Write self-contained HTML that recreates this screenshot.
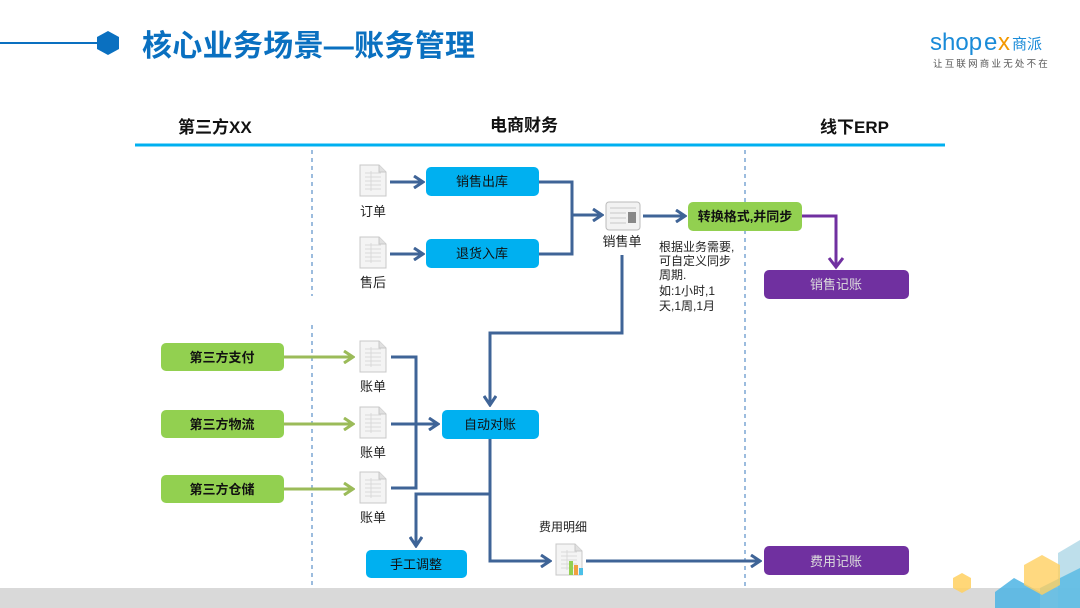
<!DOCTYPE html>
<html><head><meta charset="utf-8">
<style>
html,body{margin:0;padding:0;background:#fff;}
body{width:1080px;height:608px;overflow:hidden;}
svg{display:block;font-family:"Liberation Sans","Noto Sans CJK SC",sans-serif;}
</style></head><body>
<svg width="1080" height="608" viewBox="0 0 1080 608" xmlns="http://www.w3.org/2000/svg">
<defs>
  <marker id="ab" markerWidth="12" markerHeight="14" refX="9" refY="7" orient="auto" markerUnits="userSpaceOnUse">
    <path d="M1,1 L10,7 L1,13" fill="none" stroke="#3F6497" stroke-width="3"/>
  </marker>
  <marker id="ag" markerWidth="12" markerHeight="14" refX="9" refY="7" orient="auto" markerUnits="userSpaceOnUse">
    <path d="M1,1 L10,7 L1,13" fill="none" stroke="#9BBB59" stroke-width="3"/>
  </marker>
  <g id="doc">
    <path d="M0,0 H19 L26,7 V31 H0 Z" fill="#f4f4f4" stroke="#c8c8c8" stroke-width="1"/>
    <path d="M19,0 V7 H26" fill="#e0e0e0" stroke="#c8c8c8" stroke-width="1"/>
    <g stroke="#dadada" stroke-width="1">
      <line x1="5" y1="8" x2="21" y2="8"/><line x1="5" y1="12" x2="21" y2="12"/>
      <line x1="5" y1="16" x2="21" y2="16"/><line x1="5" y1="20" x2="21" y2="20"/>
      <line x1="5" y1="24" x2="21" y2="24"/><line x1="11" y1="6" x2="11" y2="26"/>
    </g>
  </g>
</defs>

<!-- title -->
<line x1="0" y1="43" x2="100" y2="43" stroke="#0A70C0" stroke-width="2"/>
<polygon points="108,31 119,37 119,49 108,55 97,49 97,37" fill="#0A70C0"/>
<text x="142" y="56" font-size="30" font-weight="bold" fill="#0A70C0" letter-spacing="0.3">核心业务场景—账务管理</text>

<!-- logo -->
<text x="930" y="50" font-size="24" fill="#1A8BD8" font-family="Liberation Sans,sans-serif">shop</text>
<text x="984" y="50" font-size="24" fill="#1A8BD8">e</text>
<text x="998" y="50" font-size="24" fill="#F39800">x</text>
<text x="1012" y="49" font-size="15" fill="#1A8BD8">商派</text>
<text x="933" y="67" font-size="9.5" fill="#555" letter-spacing="2.2">让互联网商业无处不在</text>

<!-- headers -->
<text x="178" y="133" font-size="17" font-weight="bold" fill="#111">第三方XX</text>
<text x="490" y="131" font-size="17" font-weight="bold" fill="#111">电商财务</text>
<text x="820" y="133" font-size="17" font-weight="bold" fill="#111">线下ERP</text>
<line x1="135" y1="145" x2="945" y2="145" stroke="#00B0F0" stroke-width="3"/>

<!-- dashed separators -->
<g stroke="#5B8FC9" stroke-width="1.2" stroke-dasharray="4,4">
<line x1="312" y1="150" x2="312" y2="296"/>
<line x1="312" y1="325" x2="312" y2="590"/>
<line x1="745" y1="150" x2="745" y2="590"/>
</g>

<!-- top section -->
<use href="#doc" x="360" y="165"/>
<text x="373" y="216" font-size="13" fill="#222" text-anchor="middle">订单</text>
<use href="#doc" x="360" y="237"/>
<text x="373" y="287" font-size="13" fill="#222" text-anchor="middle">售后</text>

<g stroke="#3F6497" stroke-width="3" fill="none">
<line x1="390" y1="182" x2="422" y2="182" marker-end="url(#ab)"/>
<line x1="390" y1="254" x2="422" y2="254" marker-end="url(#ab)"/>
<polyline points="539,182 572,182 572,254 539,254"/>
<line x1="572" y1="215" x2="601" y2="215" marker-end="url(#ab)"/>
<line x1="643" y1="216" x2="684" y2="216" marker-end="url(#ab)"/>
<polyline points="622,255 622,333 490,333 490,404" marker-end="url(#ab)"/>
<polyline points="391,357 416,357 416,488 391,488"/>
<line x1="391" y1="424" x2="437" y2="424" marker-end="url(#ab)"/>
<polyline points="490,439 490,561 549,561" marker-end="url(#ab)"/>
<polyline points="490,494 416,494 416,545" marker-end="url(#ab)"/>
<line x1="586" y1="561" x2="759" y2="561" marker-end="url(#ab)"/>
</g>

<rect x="426" y="167" width="113" height="29" rx="5" fill="#00B0F0"/>
<text x="482" y="186" font-size="13" fill="#111" text-anchor="middle">销售出库</text>
<rect x="426" y="239" width="113" height="29" rx="5" fill="#00B0F0"/>
<text x="482" y="258" font-size="13" fill="#111" text-anchor="middle">退货入库</text>

<!-- sales doc -->
<g>
<rect x="606" y="202" width="34" height="28" rx="3" fill="#f2f2f2" stroke="#bbb"/>
<g stroke="#c8c8c8"><line x1="610" y1="208" x2="636" y2="208"/><line x1="610" y1="213" x2="626" y2="213"/><line x1="610" y1="218" x2="626" y2="218"/><line x1="610" y1="223" x2="626" y2="223"/></g>
<rect x="628" y="212" width="8" height="11" fill="#888"/>
</g>
<text x="622" y="246" font-size="13" fill="#222" text-anchor="middle">销售单</text>

<rect x="688" y="202" width="114" height="29" rx="5" fill="#92D050"/>
<text x="745" y="221" font-size="13" font-weight="bold" fill="#111" text-anchor="middle">转换格式,并同步</text>

<g font-size="12" fill="#222">
<text x="659" y="251">根据业务需要,</text>
<text x="659" y="265">可自定义同步</text>
<text x="659" y="279">周期.</text>
<text x="659" y="295">如:1小时,1</text>
<text x="659" y="310">天,1周,1月</text>
</g>

<polyline points="802,216 836,216 836,265" fill="none" stroke="#7030A0" stroke-width="3"/>
<path d="M829,258 L836,267 L843,258" fill="none" stroke="#7030A0" stroke-width="3"/>
<rect x="764" y="270" width="145" height="29" rx="5" fill="#7030A0"/>
<text x="836" y="289" font-size="13" fill="#ddd" text-anchor="middle">销售记账</text>

<!-- third parties -->
<g>
<rect x="161" y="343" width="123" height="28" rx="5" fill="#92D050"/>
<text x="222" y="362" font-size="13" font-weight="bold" fill="#111" text-anchor="middle">第三方支付</text>
<rect x="161" y="410" width="123" height="28" rx="5" fill="#92D050"/>
<text x="222" y="429" font-size="13" font-weight="bold" fill="#111" text-anchor="middle">第三方物流</text>
<rect x="161" y="475" width="123" height="28" rx="5" fill="#92D050"/>
<text x="222" y="494" font-size="13" font-weight="bold" fill="#111" text-anchor="middle">第三方仓储</text>
</g>
<g stroke="#9BBB59" stroke-width="3">
<line x1="284" y1="357" x2="352" y2="357" marker-end="url(#ag)"/>
<line x1="284" y1="424" x2="352" y2="424" marker-end="url(#ag)"/>
<line x1="284" y1="489" x2="352" y2="489" marker-end="url(#ag)"/>
</g>
<use href="#doc" x="360" y="341"/>
<text x="373" y="391" font-size="13" fill="#222" text-anchor="middle">账单</text>
<use href="#doc" x="360" y="407"/>
<text x="373" y="457" font-size="13" fill="#222" text-anchor="middle">账单</text>
<use href="#doc" x="360" y="472"/>
<text x="373" y="522" font-size="13" fill="#222" text-anchor="middle">账单</text>

<rect x="442" y="410" width="97" height="29" rx="5" fill="#00B0F0"/>
<text x="490" y="429" font-size="13" fill="#111" text-anchor="middle">自动对账</text>

<rect x="366" y="550" width="101" height="28" rx="5" fill="#00B0F0"/>
<text x="416" y="569" font-size="13" fill="#111" text-anchor="middle">手工调整</text>

<text x="563" y="531" font-size="12" fill="#222" text-anchor="middle">费用明细</text>
<use href="#doc" x="556" y="544"/>
<rect x="569" y="561" width="4" height="14" fill="#92D050"/>
<rect x="574" y="565" width="4" height="10" fill="#F0A040"/>
<rect x="579" y="568" width="4" height="7" fill="#4BC0E8"/>

<rect x="764" y="546" width="145" height="29" rx="5" fill="#7030A0"/>
<text x="836" y="566" font-size="13" fill="#ddd" text-anchor="middle">费用记账</text>

<!-- bottom band + deco -->
<rect x="0" y="588" width="1080" height="20" fill="#D9D9D9"/>
<polygon points="1080,540 1058,553 1058,608 1080,608" fill="#A8D4E4" opacity="0.75"/>
<polygon points="1014,578 1040,592 1040,608 995,608 995,592" fill="#4CB4E4" opacity="0.85"/>
<polygon points="1080,568 1040,588 1040,608 1080,608" fill="#5ABBE4" opacity="0.85"/>
<polygon points="1042,555 1060,565 1060,585 1042,595 1024,585 1024,565" fill="#FFD060" opacity="0.8"/>
<polygon points="962,573 971,578 971,588 962,593 953,588 953,578" fill="#FFD060" opacity="0.85"/>
</svg>
</body></html>
